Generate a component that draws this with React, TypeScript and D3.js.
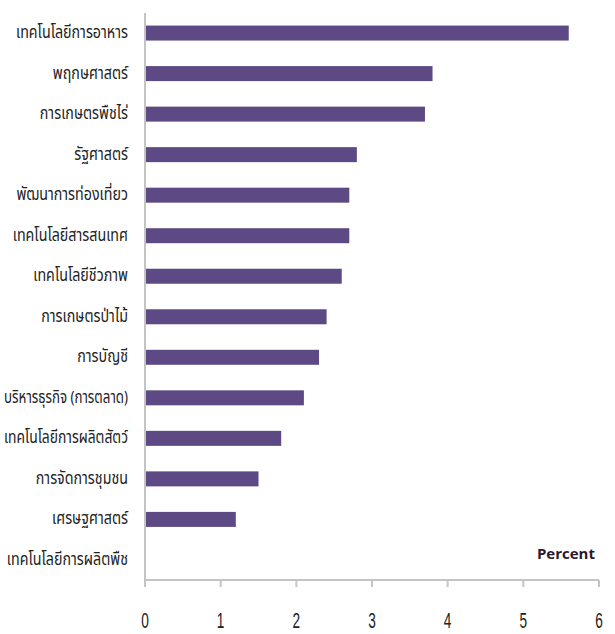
import React, { useEffect, useRef, useState } from "react";
import * as d3 from "d3";

const categories = [
  "เทคโนโลยีการอาหาร",
  "พฤกษศาสตร์",
  "การเกษตรพืชไร่",
  "รัฐศาสตร์",
  "พัฒนาการท่องเที่ยว",
  "เทคโนโลยีสารสนเทศ",
  "เทคโนโลยีชีวภาพ",
  "การเกษตรป่าไม้",
  "การบัญชี",
  "บริหารธุรกิจ (การตลาด)",
  "เทคโนโลยีการผลิตสัตว์",
  "การจัดการชุมชน",
  "เศรษฐศาสตร์",
  "เทคโนโลยีการผลิตพืช",
];
const values = [5.6, 3.8, 3.7, 2.8, 2.7, 2.7, 2.6, 2.4, 2.3, 2.1, 1.8, 1.5, 1.2, 0];
const xTicks = [0, 1, 2, 3, 4, 5, 6];
const axisTitle = "Percent";

const W = 615;
const H = 634;
const left = 145;
const right = 599;
const top = 13;
const bottom = 580;
const labelX = 128;
const maxLabelW = 124;
const baseScale = 0.84;

export default function App() {
  const x = d3.scaleLinear().domain([0, 6]).range([left, right]);
  const y = d3.scaleBand<string>().domain(categories).range([top, bottom]).paddingInner(0.63).paddingOuter(0.31);
  const font = "'Noto Sans Thai', 'Noto Sans', sans-serif";
  const refs = useRef<(SVGTextElement | null)[]>([]);
  const [scales, setScales] = useState<number[]>(categories.map(() => baseScale));
  useEffect(() => {
    const s = categories.map((_, i) => {
      const el = refs.current[i];
      if (!el) return baseScale;
      const w = el.getComputedTextLength();
      return Math.min(baseScale, maxLabelW / w);
    });
    setScales(s);
  }, []);
  return (
    <svg width={W} height={H} style={{ position: "absolute", left: 0, top: 0, background: "#fff" }}>
      {categories.map((c, i) => (
        <rect key={c} x={x(0) + 1} y={y(c)!} width={Math.max(0, x(values[i]) - x(0) - 1)} height={y.bandwidth()} fill="#5d4a84" />
      ))}
      <line x1={left} x2={left} y1={top} y2={bottom} stroke="#c4c4c4" strokeWidth={2} />
      <line x1={left} x2={right} y1={bottom} y2={bottom} stroke="#c4c4c4" strokeWidth={2} />
      {xTicks.map((t) => (
        <g key={t}>
          <line x1={x(t)} x2={x(t)} y1={bottom} y2={bottom + 7} stroke="#c4c4c4" strokeWidth={2} />
          <text x={0} y={628} textAnchor="middle" fontFamily="'Liberation Sans', sans-serif" fontSize={22} fill="#222" transform={`translate(${x(t)},0) scale(0.62,1)`}>
            {t}
          </text>
        </g>
      ))}
      {categories.map((c, i) => (
        <text
          key={c}
          ref={(el) => {
            refs.current[i] = el;
          }}
          x={0}
          y={y(c)! + y.bandwidth() / 2 - 1}
          dy="0.35em"
          textAnchor="end"
          fontFamily={font}
          fontSize={17}
          fill="#222"
          transform={`translate(${labelX},0) scale(${scales[i]},1)`}
        >
          {c}
        </text>
      ))}
      <text x={595} y={559} textAnchor="end" fontFamily="'Open Sans', sans-serif" fontWeight="bold" fontSize={15} fill="#2a1830">
        {axisTitle}
      </text>
    </svg>
  );
}
